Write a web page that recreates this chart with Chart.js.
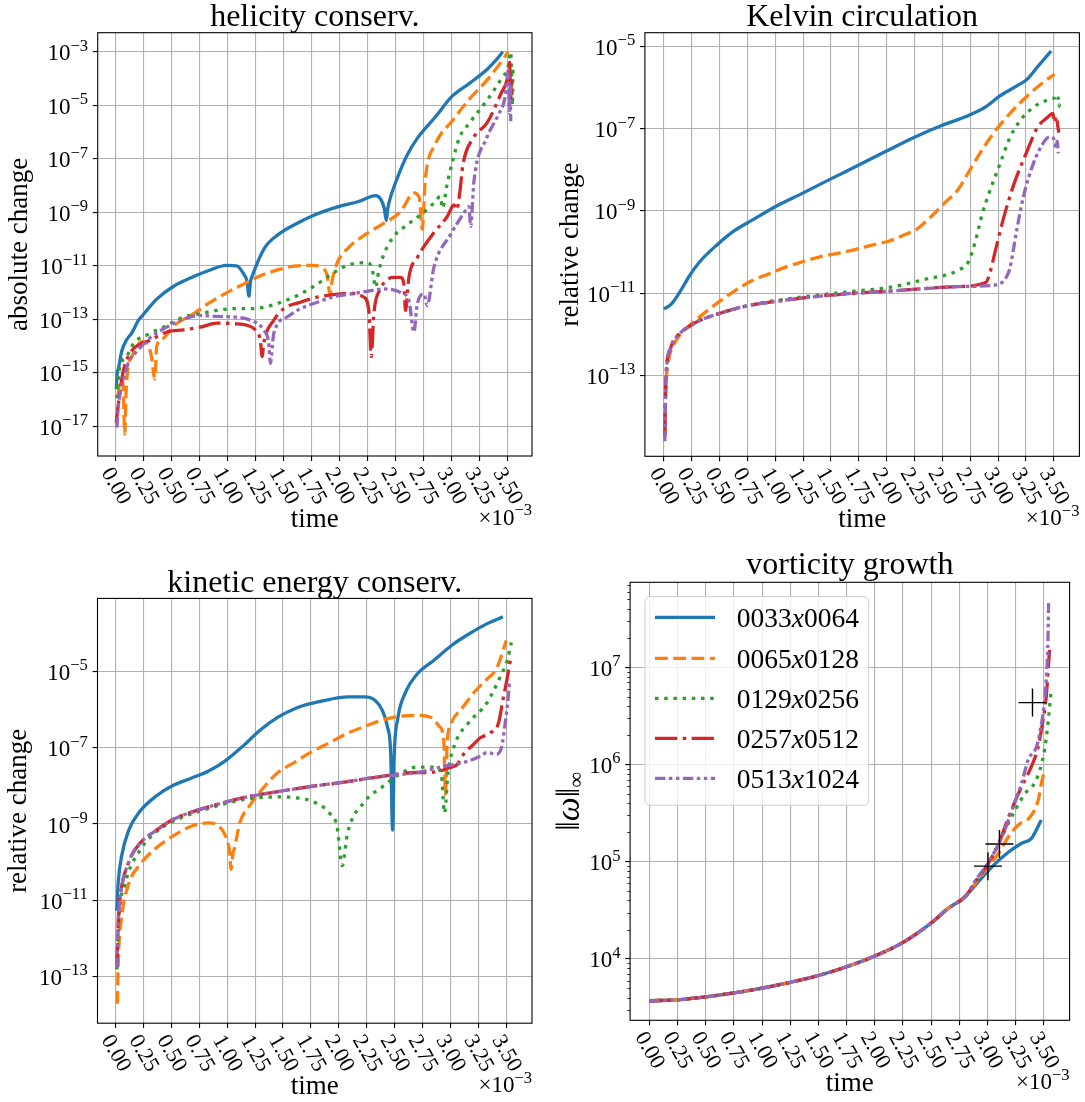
<!DOCTYPE html>
<html>
<head>
<meta charset="utf-8">
<script src="https://cdn.jsdelivr.net/npm/chart.js@4.4.1/dist/chart.umd.min.js"></script>
<style>
  html, body { margin: 0; padding: 0; background: #fff; }
  #page { position: relative; width: 1085px; height: 1102px; overflow: hidden; }
  .panel { position: absolute; }
</style>
</head>
<body>
<div id="page">
  <div class="panel" style="left:0;top:0;width:555px;height:545px"><canvas id="helicity"></canvas></div>
  <div class="panel" style="left:555px;top:0;width:530px;height:545px"><canvas id="kelvin"></canvas></div>
  <div class="panel" style="left:0;top:545px;width:555px;height:557px"><canvas id="kinetic"></canvas></div>
  <div class="panel" style="left:555px;top:545px;width:530px;height:557px"><canvas id="vorticity"></canvas></div>
</div>
<script>
// Resolution runs, time in units of 1e-3, values stored as log10 of the plotted quantity

const runLabels = ['0033x0064', '0065x0128', '0129x0256', '0257x0512', '0513x1024'];
const runColors = ['#1f77b4', '#ff7f0e', '#2ca02c', '#d62728', '#9467bd'];
const runDashes = [[], [12.8, 5.5], [3.5, 5.7], [22.2, 5.5, 3.5, 5.5], [10.4, 3.5, 3.5, 3.5, 3.5, 3.5]];

const timeTicks = [0.00, 0.25, 0.50, 0.75, 1.00, 1.25, 1.50, 1.75, 2.00, 2.25, 2.50, 2.75, 3.00, 3.25, 3.50];

// helicity conserv. (absolute change)
const helYTicks = [1e-17, 1e-15, 1e-13, 1e-11, 1e-9, 1e-7, 1e-5, 1e-3];
const helT0033 = [0.006,0.015,0.025,0.054,0.099,0.144,0.203,0.263,0.367,0.522,0.678,0.833,0.989,1.082,1.144,1.175,1.191,1.205,1.222,1.330,1.455,1.610,1.766,1.983,2.170,2.325,2.372,2.400,2.418,2.432,2.449,2.512,2.605,2.698,2.854,3.009,3.164,3.320,3.400,3.460];
const helL0033 = [-15.62,-15.00,-14.85,-14.21,-13.77,-13.52,-13.05,-12.75,-12.25,-11.76,-11.44,-11.18,-10.99,-11.01,-11.31,-11.60,-12.14,-11.60,-11.37,-10.34,-9.83,-9.44,-9.12,-8.80,-8.60,-8.38,-8.54,-8.85,-9.31,-8.85,-8.54,-7.77,-6.86,-6.22,-5.45,-4.65,-4.17,-3.65,-3.30,-3.00];
const helT0065 = [0.020,0.040,0.056,0.069,0.081,0.095,0.113,0.144,0.170,0.233,0.290,0.320,0.351,0.367,0.410,0.530,0.680,0.833,0.989,1.144,1.299,1.455,1.610,1.766,1.843,1.890,1.915,1.937,1.983,2.077,2.232,2.387,2.543,2.667,2.714,2.739,2.767,2.854,3.009,3.164,3.320,3.475,3.506];
const helL0065 = [-15.90,-15.30,-15.24,-15.65,-17.30,-15.60,-14.77,-14.40,-14.20,-13.84,-13.95,-14.40,-15.24,-14.03,-13.77,-13.21,-12.84,-12.40,-12.02,-11.69,-11.37,-11.15,-11.01,-10.99,-11.09,-11.37,-12.08,-11.50,-10.86,-10.34,-9.83,-9.44,-8.99,-8.28,-8.47,-9.63,-7.77,-6.48,-5.58,-4.75,-4.05,-3.20,-3.00];
const helT0129 = [0.010,0.030,0.056,0.099,0.160,0.309,0.459,0.607,0.757,0.906,1.055,1.204,1.353,1.502,1.651,1.801,1.949,2.098,2.248,2.293,2.322,2.352,2.396,2.486,2.606,2.725,2.843,2.903,2.919,2.963,3.009,3.071,3.164,3.320,3.444,3.506,3.530,3.540,3.545,3.550];
const helL0129 = [-15.96,-15.00,-14.59,-14.40,-13.91,-13.54,-13.23,-12.92,-12.80,-12.67,-12.61,-12.61,-12.53,-12.33,-12.06,-11.69,-11.26,-10.95,-10.89,-11.13,-11.81,-11.19,-10.58,-9.90,-9.47,-9.10,-8.66,-8.41,-8.85,-7.92,-7.12,-6.22,-5.65,-4.80,-4.02,-3.56,-3.00,-4.20,-5.00,-3.60];
const helT0257 = [0.005,0.024,0.054,0.086,0.113,0.160,0.309,0.459,0.607,0.757,0.906,1.055,1.174,1.249,1.293,1.309,1.323,1.413,1.502,1.651,1.801,1.949,2.098,2.217,2.262,2.284,2.307,2.367,2.486,2.546,2.575,2.590,2.620,2.695,2.843,2.963,3.023,3.047,3.076,3.102,3.196,3.320,3.444,3.500,3.520,3.530,3.535];
const helL0257 = [-16.87,-16.20,-15.27,-14.65,-14.40,-14.10,-13.79,-13.48,-13.40,-13.30,-13.15,-13.17,-13.23,-13.41,-13.79,-14.40,-13.91,-13.04,-12.61,-12.37,-12.18,-12.08,-12.03,-12.18,-12.67,-14.40,-12.80,-11.87,-11.44,-11.44,-11.69,-12.67,-11.44,-10.70,-9.77,-9.16,-8.73,-8.91,-8.23,-7.25,-6.22,-5.65,-4.55,-4.00,-3.40,-4.80,-3.90];
const helT0513 = [0.012,0.024,0.041,0.054,0.113,0.203,0.309,0.459,0.607,0.757,0.906,1.055,1.204,1.323,1.368,1.383,1.413,1.532,1.651,1.801,1.949,2.098,2.248,2.396,2.546,2.620,2.665,2.695,2.755,2.784,2.843,2.992,3.112,3.157,3.172,3.201,3.313,3.419,3.477,3.510,3.520,3.525,3.530];
const helL0513 = [-17.06,-16.27,-15.76,-15.52,-14.65,-14.15,-13.70,-13.29,-13.00,-12.86,-12.90,-12.92,-13.04,-13.41,-13.91,-14.65,-13.54,-12.92,-12.61,-12.37,-12.16,-12.06,-11.96,-11.87,-12.00,-12.30,-13.48,-12.43,-12.06,-12.49,-11.07,-9.84,-9.03,-8.79,-9.53,-7.86,-6.24,-5.36,-4.74,-3.70,-5.30,-4.20,-5.60];

// Kelvin circulation (relative change)
const kelYTicks = [1e-13, 1e-11, 1e-9, 1e-7, 1e-5];
const kelT0033 = [0.000,0.062,0.139,0.232,0.324,0.479,0.633,0.788,1.004,1.251,1.498,1.745,1.993,2.240,2.487,2.734,2.888,3.012,3.167,3.259,3.352,3.475];
const kelL0033 = [-11.38,-11.28,-10.99,-10.57,-10.23,-9.82,-9.48,-9.23,-8.89,-8.56,-8.22,-7.89,-7.55,-7.22,-6.93,-6.68,-6.47,-6.21,-5.96,-5.80,-5.50,-5.11];
const kelT0065 = [0.009,0.015,0.022,0.046,0.108,0.232,0.324,0.479,0.633,0.788,0.942,1.097,1.251,1.406,1.560,1.715,1.869,2.023,2.178,2.271,2.394,2.518,2.641,2.734,2.827,2.950,3.105,3.259,3.383,3.506];
const kelL0065 = [-14.46,-13.60,-13.08,-12.58,-12.16,-11.78,-11.57,-11.24,-10.95,-10.70,-10.53,-10.36,-10.23,-10.11,-10.03,-9.94,-9.83,-9.73,-9.56,-9.44,-9.15,-8.81,-8.48,-8.06,-7.64,-7.14,-6.63,-6.21,-5.92,-5.67];
const kelT0129 = [0.009,0.015,0.022,0.062,0.139,0.232,0.324,0.479,0.726,1.004,1.406,1.715,2.023,2.332,2.641,2.734,2.796,2.858,2.919,3.012,3.105,3.198,3.321,3.444,3.506,3.530,3.540,3.548,3.553];
const kelL0129 = [-14.46,-13.50,-12.95,-12.33,-11.99,-11.80,-11.66,-11.51,-11.32,-11.18,-11.04,-10.95,-10.86,-10.67,-10.44,-10.23,-9.73,-9.06,-8.56,-7.89,-7.22,-6.80,-6.47,-6.30,-6.26,-6.35,-6.25,-6.45,-6.30];
const kelT0257 = [0.009,0.015,0.022,0.062,0.139,0.232,0.324,0.479,0.726,1.004,1.406,1.715,2.023,2.332,2.641,2.888,2.919,2.981,3.043,3.136,3.259,3.352,3.444,3.490,3.510,3.520,3.537,3.545];
const kelL0257 = [-14.46,-13.40,-12.91,-12.33,-11.99,-11.80,-11.66,-11.51,-11.32,-11.20,-11.07,-11.00,-10.95,-10.89,-10.84,-10.74,-10.57,-9.90,-9.23,-8.39,-7.55,-6.97,-6.72,-6.63,-6.85,-6.70,-6.97,-7.10];
const kelT0513 = [0.009,0.015,0.022,0.062,0.139,0.232,0.324,0.479,0.726,1.004,1.406,1.715,2.023,2.332,2.641,2.950,3.043,3.075,3.105,3.165,3.225,3.314,3.419,3.460,3.500,3.520,3.530,3.539];
const kelL0513 = [-14.60,-13.50,-12.91,-12.33,-11.99,-11.80,-11.66,-11.51,-11.32,-11.20,-11.07,-11.00,-10.95,-10.89,-10.84,-10.81,-10.72,-10.60,-10.40,-9.49,-8.67,-7.86,-7.29,-7.20,-7.25,-7.45,-7.30,-7.60];

// kinetic energy conserv. (relative change)
const kinYTicks = [1e-13, 1e-11, 1e-9, 1e-7, 1e-5];
const kinT0033 = [0.012,0.018,0.025,0.056,0.118,0.211,0.367,0.522,0.678,0.833,0.989,1.144,1.299,1.455,1.610,1.766,1.921,2.077,2.232,2.325,2.387,2.434,2.465,2.481,2.496,2.527,2.605,2.698,2.854,3.009,3.164,3.320,3.469];
const kinL0033 = [-11.27,-10.80,-10.47,-9.81,-9.16,-8.69,-8.26,-7.98,-7.80,-7.61,-7.33,-6.95,-6.53,-6.20,-5.97,-5.83,-5.73,-5.67,-5.67,-5.76,-6.01,-6.44,-7.19,-9.16,-7.19,-6.25,-5.50,-5.08,-4.70,-4.32,-4.02,-3.76,-3.57];
const kinT0065 = [0.016,0.025,0.056,0.118,0.211,0.367,0.522,0.678,0.833,0.926,0.989,1.020,1.035,1.050,1.066,1.113,1.206,1.330,1.455,1.610,1.766,1.921,2.077,2.232,2.387,2.543,2.698,2.822,2.900,2.940,2.955,2.970,3.009,3.102,3.227,3.320,3.413,3.500];
const kinL0065 = [-13.71,-12.53,-11.41,-10.56,-10.09,-9.62,-9.30,-9.06,-8.97,-9.06,-9.34,-9.70,-10.19,-9.80,-9.62,-8.97,-8.50,-8.03,-7.65,-7.37,-7.09,-6.86,-6.62,-6.44,-6.28,-6.18,-6.15,-6.20,-6.44,-6.81,-8.22,-6.90,-6.34,-5.97,-5.50,-5.22,-4.92,-4.19];
const kinT0129 = [0.012,0.025,0.087,0.211,0.367,0.522,0.833,1.144,1.455,1.610,1.766,1.921,1.983,2.030,2.077,2.232,2.387,2.543,2.698,2.854,2.916,2.947,2.978,3.040,3.164,3.320,3.444,3.510,3.545];
const kinL0129 = [-12.81,-11.69,-10.56,-9.72,-9.20,-8.92,-8.59,-8.36,-8.29,-8.31,-8.41,-8.73,-9.06,-10.09,-9.25,-8.41,-8.03,-7.70,-7.51,-7.51,-7.65,-8.71,-7.65,-6.90,-6.34,-5.85,-5.15,-4.69,-4.24];
const kinT0257 = [0.012,0.025,0.040,0.118,0.211,0.367,0.522,0.678,0.833,1.144,1.455,1.766,2.077,2.387,2.698,2.813,3.009,3.060,3.117,3.207,3.267,3.357,3.430,3.470,3.500,3.537];
const kinL0257 = [-12.70,-11.50,-10.94,-10.00,-9.53,-9.16,-8.87,-8.69,-8.55,-8.31,-8.15,-8.01,-7.89,-7.75,-7.65,-7.65,-7.51,-7.44,-7.17,-6.91,-6.74,-6.61,-6.35,-5.74,-5.30,-4.69];
const kinT0513 = [0.012,0.025,0.040,0.118,0.211,0.367,0.522,0.678,0.833,1.144,1.455,1.766,2.077,2.387,2.698,2.968,3.117,3.267,3.327,3.415,3.460,3.486,3.515,3.530];
const kinL0513 = [-12.77,-11.50,-10.94,-10.00,-9.53,-9.16,-8.87,-8.69,-8.55,-8.31,-8.15,-8.01,-7.89,-7.75,-7.65,-7.47,-7.39,-7.22,-7.13,-7.17,-6.96,-6.44,-5.74,-5.22];

// vorticity growth (max norm), all runs share the early part
const vorYTicks = [1e4, 1e5, 1e6, 1e7];
const vorCommonT = [0.000,0.250,0.500,0.750,1.000,1.250,1.500,1.750,2.000,2.250,2.500,2.650,2.800];
const vorCommonL = [3.57,3.58,3.61,3.65,3.70,3.76,3.83,3.92,4.03,4.17,4.37,4.52,4.64];
const vorT0033 = [2.900,3.041,3.186,3.302,3.389,3.476];
const vorL0033 = [4.77,4.95,5.10,5.19,5.24,5.43];
const vorT0065 = [2.900,3.000,3.099,3.186,3.273,3.376,3.448,3.476,3.505];
const vorL0065 = [4.79,4.94,5.09,5.26,5.38,5.46,5.63,5.80,5.94];
const vorT0129 = [2.900,3.000,3.080,3.157,3.244,3.331,3.418,3.462,3.505,3.535,3.564];
const vorL0129 = [4.80,4.97,5.14,5.33,5.53,5.70,5.81,5.94,6.15,6.42,6.77];
const vorT0257 = [2.900,3.000,3.099,3.186,3.273,3.331,3.389,3.448,3.476,3.520,3.535,3.549];
const vorL0257 = [4.81,4.97,5.19,5.46,5.70,5.84,5.98,6.18,6.35,6.70,6.94,7.18];
const vorT0513 = [2.900,3.000,3.129,3.216,3.302,3.360,3.433,3.462,3.520,3.535,3.541];
const vorL0513 = [4.82,4.98,5.26,5.53,5.81,6.05,6.18,6.32,6.87,7.28,7.66];
const plusT = [3.003, 3.105, 3.398];
const plusV = [9.0e4, 1.52e5, 4.33e6];

const FONT = "'Liberation Serif', 'DejaVu Serif', serif";

function toPoints(T, L) {
    return T.map((t, i) => ({ x: t, y: Math.pow(10, L[i]) }));
}

function runDataset(T, L, k) {
    return {
        label: runLabels[k],
        data: toPoints(T, L),
        borderColor: runColors[k],
        borderDash: runDashes[k],
        borderWidth: 3.3,
        borderCapStyle: 'butt',
        borderJoinStyle: 'round',
        cubicInterpolationMode: 'monotone',
        pointRadius: 0,
        fill: false,
        order: 5 - k
    };
}

// draws a row of text pieces (base + raised/lowered parts)
function drawRich(ctx, parts, x, y, align) {
    let total = 0;
    parts.forEach(p => {
        ctx.font = `${p.italic ? 'italic ' : ''}${p.size}px ${FONT}`;
        p.w = ctx.measureText(p.t).width;
        total += p.w;
    });
    let cx = align === 'right' ? x - total : (align === 'center' ? x - total / 2 : x);
    ctx.textAlign = 'left';
    parts.forEach(p => {
        ctx.font = `${p.italic ? 'italic ' : ''}${p.size}px ${FONT}`;
        ctx.fillText(p.t, cx, y + (p.dy || 0));
        cx += p.w;
    });
}

function powParts(base, exp, size) {
    const e = exp < 0 ? '\u2212' + (-exp) : String(exp);
    return [{ t: base, size: size }, { t: e, size: size * 0.72, dy: -size * 0.42 }];
}

const decor = {
    id: 'decor',
    afterDraw(chart, args, o) {
        const ctx = chart.ctx;
        const a = chart.chartArea;
        const xs = chart.scales.x;
        const ys = chart.scales.y;
        ctx.save();
        ctx.fillStyle = '#000';
        ctx.strokeStyle = '#000';
        ctx.textBaseline = 'alphabetic';

        // minor log ticks
        if (o.minor) {
            ctx.lineWidth = 0.8;
            for (let n = 2; n <= 8; n++) {
                for (let k = 2; k <= 9; k++) {
                    const v = k * Math.pow(10, n);
                    if (v < ys.min || v > ys.max) continue;
                    const py = Math.round(ys.getPixelForValue(v)) + 0.5;
                    ctx.beginPath();
                    ctx.moveTo(a.left, py);
                    ctx.lineTo(a.left - 2.8, py);
                    ctx.stroke();
                }
            }
        }

        // frame
        ctx.lineWidth = 1.1;
        ctx.strokeRect(a.left, a.top, a.right - a.left, a.bottom - a.top);

        // y tick labels
        ys.ticks.forEach(tk => {
            const py = ys.getPixelForValue(tk.value);
            const e = Math.round(Math.log10(tk.value));
            drawRich(ctx, powParts('10', e, 23), a.left - 9.7, py + 8.5, 'right');
        });

        // x tick labels, rotated clockwise
        const th = Math.PI / 3;
        ctx.font = `22px ${FONT}`;
        xs.ticks.forEach(tk => {
            const px = xs.getPixelForValue(tk.value);
            const txt = tk.value.toFixed(2);
            const w = ctx.measureText(txt).width;
            const bh = w * Math.sin(th) + 15.5 * Math.cos(th);
            ctx.save();
            ctx.translate(px, a.bottom + 9.7 + bh / 2);
            ctx.rotate(th);
            ctx.textAlign = 'center';
            ctx.textBaseline = 'middle';
            ctx.fillText(txt, 0, 0);
            ctx.restore();
        });

        // offset text and axis labels
        drawRich(ctx, powParts('\u00d710', -3, 23), a.right, a.bottom + 69, 'right');
        ctx.font = `27px ${FONT}`;
        ctx.textAlign = 'center';
        ctx.fillText('time', (a.left + a.right) / 2, a.bottom + 71);

        ctx.save();
        ctx.translate(o.ylabelX, (a.top + a.bottom) / 2);
        ctx.rotate(-Math.PI / 2);
        ctx.textBaseline = 'middle';
        drawRich(ctx, o.ylabel, 0, 0, 'center');
        ctx.restore();

        // title
        ctx.font = `32px ${FONT}`;
        ctx.textAlign = 'center';
        ctx.textBaseline = 'alphabetic';
        ctx.fillText(o.title, (a.left + a.right) / 2, o.titleY);

        // legend
        if (o.legend) {
            const lg = o.legend;
            ctx.beginPath();
            ctx.roundRect(lg.x, lg.y, lg.w, lg.h, 5);
            ctx.fillStyle = 'rgba(255,255,255,0.8)';
            ctx.fill();
            ctx.strokeStyle = '#cccccc';
            ctx.lineWidth = 1;
            ctx.stroke();
            chart.data.datasets.forEach((ds, i) => {
                if (i >= runLabels.length) return;
                const ry = lg.rows[i];
                ctx.save();
                ctx.strokeStyle = ds.borderColor;
                ctx.lineWidth = ds.borderWidth;
                ctx.lineCap = 'butt';
                ctx.setLineDash(ds.borderDash);
                ctx.beginPath();
                ctx.moveTo(lg.lineX0, ry);
                ctx.lineTo(lg.lineX1, ry);
                ctx.stroke();
                ctx.restore();
                ctx.fillStyle = '#000';
                const parts = ds.label.split('x');
                drawRich(ctx, [{ t: parts[0], size: 27.5 }, { t: 'x', size: 27.5, italic: true }, { t: parts[1], size: 27.5 }], lg.textX, ry + 9.5, 'left');
            });
        }
        ctx.restore();
    }
};

function makePanel(id, p) {
    new Chart(document.getElementById(id), {
        type: 'line',
        data: { datasets: p.datasets },
        options: {
            responsive: true,
            maintainAspectRatio: false,
            animation: false,
            events: [],
            layout: { padding: { top: p.padTop, right: p.padRight, left: 0, bottom: 0 } },
            plugins: {
                legend: { display: false },
                tooltip: { enabled: false },
                decor: p.decor
            },
            scales: {
                x: {
                    type: 'linear',
                    min: p.xMin,
                    max: p.xMax,
                    afterBuildTicks: s => { s.ticks = timeTicks.map(v => ({ value: v })); },
                    afterFit: s => { s.height = p.xAxisH; },
                    ticks: { display: false },
                    grid: { color: '#b0b0b0', lineWidth: 1.1, tickColor: '#000', tickLength: 4.9, tickWidth: 1.1 },
                    border: { display: false }
                },
                y: {
                    type: 'logarithmic',
                    min: Math.pow(10, p.yMinLog),
                    max: Math.pow(10, p.yMaxLog),
                    afterBuildTicks: s => { s.ticks = p.yTicks.map(v => ({ value: v })); },
                    afterFit: s => { s.width = p.yAxisW; },
                    ticks: { display: false },
                    grid: { color: '#b0b0b0', lineWidth: 1.1, tickColor: '#000', tickLength: 4.9, tickWidth: 1.1 },
                    border: { display: false }
                }
            }
        },
        plugins: [decor]
    });
}

makePanel('helicity', {
    datasets: [
        runDataset(helT0033, helL0033, 0),
        runDataset(helT0065, helL0065, 1),
        runDataset(helT0129, helL0129, 2),
        runDataset(helT0257, helL0257, 3),
        runDataset(helT0513, helL0513, 4)
    ],
    xMin: -0.16, xMax: 3.72, yMinLog: -18.12, yMaxLog: -2.285, yTicks: helYTicks,
    padTop: 32.7, padRight: 23, yAxisW: 97.7, xAxisH: 89,
    decor: { title: 'helicity conserv.', titleY: 26, ylabelX: 20, ylabel: [{ t: 'absolute change', size: 27 }] }
});

makePanel('kelvin', {
    datasets: [
        runDataset(kelT0033, kelL0033, 0),
        runDataset(kelT0065, kelL0065, 1),
        runDataset(kelT0129, kelL0129, 2),
        runDataset(kelT0257, kelL0257, 3),
        runDataset(kelT0513, kelL0513, 4)
    ],
    xMin: -0.17, xMax: 3.729, yMinLog: -14.967, yMaxLog: -4.665, yTicks: kelYTicks,
    padTop: 32.7, padRight: 5.6, yAxisW: 89.9, xAxisH: 88.7,
    decor: { title: 'Kelvin circulation', titleY: 25.8, ylabelX: 15.8, ylabel: [{ t: 'relative change', size: 27 }] }
});

makePanel('kinetic', {
    datasets: [
        runDataset(kinT0033, kinL0033, 0),
        runDataset(kinT0065, kinL0065, 1),
        runDataset(kinT0129, kinL0129, 2),
        runDataset(kinT0257, kinL0257, 3),
        runDataset(kinT0513, kinL0513, 4)
    ],
    xMin: -0.162, xMax: 3.73, yMinLog: -14.20, yMaxLog: -3.086, yTicks: kinYTicks,
    padTop: 53.4, padRight: 23, yAxisW: 97.5, xAxisH: 78.8,
    decor: { title: 'kinetic energy conserv.', titleY: 47, ylabelX: 19, ylabel: [{ t: 'relative change', size: 27 }] }
});

const plusMarkers = {
    label: 'markers',
    data: plusT.map((t, i) => ({ x: t, y: plusV[i] })),
    showLine: false,
    pointStyle: 'cross',
    pointRadius: 14,
    pointBorderColor: '#000',
    pointBorderWidth: 1.4,
    order: 0
};

makePanel('vorticity', {
    datasets: [
        runDataset(vorCommonT.concat(vorT0033), vorCommonL.concat(vorL0033), 0),
        runDataset(vorCommonT.concat(vorT0065), vorCommonL.concat(vorL0065), 1),
        runDataset(vorCommonT.concat(vorT0129), vorCommonL.concat(vorL0129), 2),
        runDataset(vorCommonT.concat(vorT0257), vorCommonL.concat(vorL0257), 3),
        runDataset(vorCommonT.concat(vorT0513), vorCommonL.concat(vorL0513), 4),
        plusMarkers
    ],
    xMin: -0.17, xMax: 3.727, yMinLog: 3.369, yMaxLog: 7.874, yTicks: vorYTicks,
    padTop: 37.3, padRight: 5.6, yAxisW: 75.1, xAxisH: 81.7,
    decor: {
        title: 'vorticity growth', titleY: 29, ylabelX: 15, minor: true,
        ylabel: [{ t: '\u2016', size: 34 }, { t: '\u03c9', size: 34, italic: true }, { t: '\u2016', size: 34 }, { t: '\u221e', size: 22, dy: 7 }],
        legend: { x: 90, y: 51.7, w: 223.7, h: 208.5, rows: [72.3, 113.3, 153.3, 193.3, 233.3], lineX0: 100, lineX1: 160, textX: 181.7 }
    }
});
</script>
</body>
</html>
